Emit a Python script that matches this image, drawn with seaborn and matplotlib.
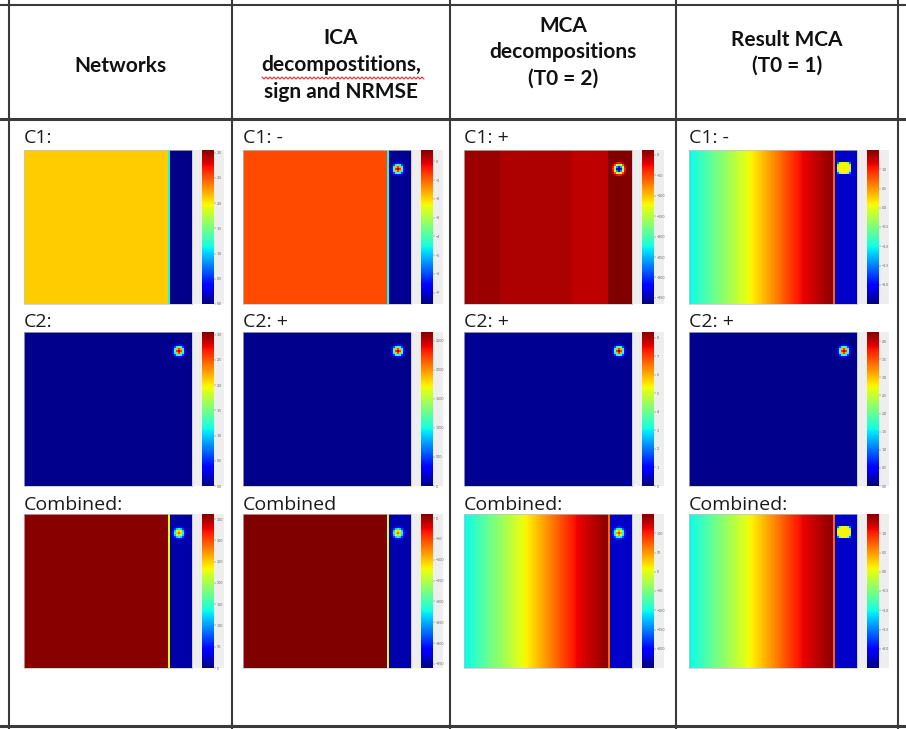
import numpy as np
import matplotlib
matplotlib.use("Agg")
import matplotlib.pyplot as plt
import seaborn as sns
from matplotlib.patches import Rectangle

# ------------------------------------------------------------------ text
HEADERS = [["Networks"],
           ["ICA", "decompostitions,", "sign and NRMSE"],
           ["MCA", "decompositions", "(T0 = 2)"],
           ["Result MCA", "(T0 = 1)"]]
HEADER_BASELINES = [[72], [44, 71, 98], [32, 58, 85], [46, 72]]
ROW_LABELS = [["C1:", "C2:", "Combined:"],
              ["C1: -", "C2: +", "Combined"],
              ["C1: +", "C2: +", "Combined:"],
              ["C1: -", "C2: +", "Combined:"]]

# ------------------------------------------------------------------ field values
# main-region column profiles (72 columns across the image, left to right)
NET_C1_MAIN = [2.12] * 72
NET_C2_MAIN = [0.04] * 72
NET_COMB_MAIN = [358] * 72
ICA_C1_MAIN = [-0.8] * 72
ICA_C2_MAIN = [40] * 72
ICA_COMB_MAIN = [10] * 72
MCA_C1_MAIN = [2.6] * 18 + [-3] * 36 + [-10] * 18
MCA_C2_MAIN = [0.15] * 72
MCA_COMB_MAIN = [-104, -100, -97, -93, -89, -85, -82, -78, -74, -70, -67, -63,
                 -59, -56, -52, -48, -44, -40, -37, -33, -29, -26, -22, -18,
                 -14, -10, -7, -3, 1, 4, 8, 12, 16, 20, 24, 28,
                 32, 36, 40, 44, 48, 52, 56, 60, 64, 68, 72, 76,
                 80, 84, 88, 92, 96, 99, 103, 107, 111, 113, 115, 118,
                 120, 122, 124, 127, 129, 131, 134, 136, 138, 140, 142, 145]
RES_GRADIENT = [-1.04, -1.00, -0.97, -0.93, -0.89, -0.85, -0.82, -0.78, -0.74, -0.70, -0.67, -0.63,
                -0.59, -0.56, -0.52, -0.48, -0.44, -0.40, -0.37, -0.33, -0.29, -0.26, -0.22, -0.18,
                -0.14, -0.10, -0.07, -0.03, 0.01, 0.04, 0.08, 0.12, 0.16, 0.20, 0.24, 0.28,
                0.32, 0.36, 0.40, 0.44, 0.48, 0.52, 0.56, 0.60, 0.64, 0.68, 0.72, 0.76,
                0.80, 0.84, 0.88, 0.92, 0.96, 0.99, 1.03, 1.07, 1.11, 1.13, 1.15, 1.18,
                1.20, 1.22, 1.24, 1.27, 1.29, 1.31, 1.34, 1.36, 1.38, 1.40, 1.42, 1.45]
RES_C1_MAIN = RES_GRADIENT
RES_C2_MAIN = [0.06] * 72
RES_COMB_MAIN = RES_GRADIENT

# boundary column, right strip, blob peak value (per column: Networks, ICA, MCA, Result)
EDGE_VALUES = [[1.15, 0.04, 224], [-4.5, 40, -131], [12, 0.15, 70], [0.7, 0.06, 0.7]]
STRIP_VALUES = [[0.03, 0.04, 14], [-7.45, 40, -345], [12, 0.15, -224], [-2.24, 0.06, -2.24]]
BLOB_PEAKS = [[None, 3.0, 290], [0.6, 2600, -64], [-365, 8.2, 90], [0.1, 4.2, 0.1]]
BLOB_KINDS = [[None, "soft", "soft"], ["soft", "soft", "soft"],
              ["soft", "soft", "soft"], ["flat", "soft", "flat"]]

# colour limits and colorbar ticks
VLIMS = [[(0, 3.05), (0, 3.05), (0, 362)],
         [(-7.6, 0.6), (0, 2650), (-360, 10)],
         [(-365, 12), (0, 8.3), (-250, 150)],
         [(-2.5, 1.5), (0, 4.25), (-2.5, 1.5)]]
CBAR_TICKS = [[[0, 0.5, 1, 1.5, 2, 2.5, 3], [0, 0.5, 1, 1.5, 2, 2.5, 3], [0, 50, 100, 150, 200, 250, 300, 350]],
              [[-7, -6, -5, -4, -3, -2, -1, 0], [0, 500, 1000, 1500, 2000, 2500], [-350, -300, -250, -200, -150, -100, -50, 0]],
              [[-350, -300, -250, -200, -150, -100, -50, 0], [0, 1, 2, 3, 4, 5, 6, 7, 8], [-200, -150, -100, -50, 0, 50, 100]],
              [[-2, -1.5, -1, -0.5, 0, 0.5, 1], [0, 0.5, 1, 1.5, 2, 2.5, 3, 3.5, 4], [-2, -1.5, -1, -0.5, 0, 0.5, 1]]]

MAINS = [[NET_C1_MAIN, NET_C2_MAIN, NET_COMB_MAIN],
         [ICA_C1_MAIN, ICA_C2_MAIN, ICA_COMB_MAIN],
         [MCA_C1_MAIN, MCA_C2_MAIN, MCA_COMB_MAIN],
         [RES_C1_MAIN, RES_C2_MAIN, RES_COMB_MAIN]]

# blob shapes (relative weights)
BLOB_SOFT = [[0.00, 0.04, 0.10, 0.13, 0.10, 0.04, 0.00],
             [0.04, 0.18, 0.38, 0.46, 0.38, 0.18, 0.04],
             [0.10, 0.38, 0.72, 0.86, 0.72, 0.38, 0.10],
             [0.13, 0.46, 0.86, 1.00, 0.86, 0.46, 0.13],
             [0.10, 0.38, 0.72, 0.86, 0.72, 0.38, 0.10],
             [0.04, 0.18, 0.38, 0.46, 0.38, 0.18, 0.04],
             [0.00, 0.04, 0.10, 0.13, 0.10, 0.04, 0.00]]
BLOB_FLAT = [[0.3, 0.8, 1, 1, 1, 0.8, 0.3],
             [0.8, 1, 1, 1, 1, 1, 0.8],
             [1, 1, 1, 1, 1, 1, 1],
             [1, 1, 1, 1, 1, 1, 1],
             [0.8, 1, 1, 1, 1, 1, 0.8],
             [0.3, 0.8, 1, 1, 1, 0.8, 0.3]]

# ------------------------------------------------------------------ layout (pixels)
W, H = 906, 729
COL_X = [24, 243, 464, 689]
ROW_Y = [150, 332, 514]
IMG_W, IMG_H = 168, 154
CBAR_GAP, CBAR_W = 10, 12
V_LINES = [9, 232, 450, 676, 898]
N_ROWS, N_STRIP = 78, 11
BLOB_R0, BLOB_C0 = 6, 74


def build_field(main, edge, strip, peak, kind):
    row = np.concatenate([np.asarray(main, float), [edge], np.full(N_STRIP, strip)])
    grid = np.tile(row, (N_ROWS, 1))
    if kind is not None:
        patch = np.asarray(BLOB_SOFT if kind == "soft" else BLOB_FLAT, float)
        ph, pw = patch.shape
        grid[BLOB_R0:BLOB_R0 + ph, BLOB_C0:BLOB_C0 + pw] += (peak - strip) * patch
    return grid


sns.set_theme(style="white")
plt.rcParams["font.family"] = ["Lato", "DejaVu Sans"]

fig = plt.figure(figsize=(W / 100, H / 100), dpi=100)
fig.patch.set_facecolor("white")


def px_axes(x, y, w, h):
    return fig.add_axes([x / W, 1 - (y + h) / H, w / W, h / H])


bg = px_axes(0, 0, W, H)
bg.set_xlim(0, W)
bg.set_ylim(H, 0)
bg.axis("off")

line_c = "#3a3a3a"
for x in V_LINES:
    bg.plot([x, x], [0, H], color=line_c, lw=1.5, solid_capstyle="butt")
bg.plot([0, W], [5, 5], color=line_c, lw=1.5)
bg.plot([0, W], [119, 119], color=line_c, lw=2.2)
bg.plot([0, W], [726, 726], color=line_c, lw=2.2)

# headers
for ci, lines in enumerate(HEADERS):
    cx = (V_LINES[ci] + V_LINES[ci + 1]) / 2
    for txt, yb in zip(lines, HEADER_BASELINES[ci]):
        bg.text(cx, yb, txt, ha="center", va="baseline", fontsize=15,
                fontweight="bold", color="#111111", family=["Lato", "DejaVu Sans"])

# spell-check squiggle under "decompostitions,"
sq_x = np.arange(262, 426, 2)
sq_y = np.where(np.arange(len(sq_x)) % 2 == 0, 77.0, 79.0)
bg.plot(sq_x, sq_y, color="#e03030", lw=0.8)

label_baselines = [143, 327, 510]
for ci in range(4):
    for ri in range(3):
        x0, y0 = COL_X[ci], ROW_Y[ri]
        bg.text(x0, label_baselines[ri], ROW_LABELS[ci][ri], ha="left", va="baseline",
                fontsize=14, color="#1a1a1a", family=["Open Sans", "DejaVu Sans"])
        cbar_x = x0 + IMG_W + CBAR_GAP
        bg.add_patch(Rectangle((x0 + IMG_W, y0), cbar_x + CBAR_W + 10 - (x0 + IMG_W), IMG_H,
                               facecolor="#eeeeee", edgecolor="none", zorder=0))
        grid = build_field(MAINS[ci][ri], EDGE_VALUES[ci][ri], STRIP_VALUES[ci][ri],
                           BLOB_PEAKS[ci][ri], BLOB_KINDS[ci][ri])
        ax = px_axes(x0, y0, IMG_W, IMG_H)
        cax = px_axes(cbar_x, y0, CBAR_W, IMG_H)
        lo, hi = VLIMS[ci][ri]
        sns.heatmap(grid, ax=ax, cbar_ax=cax, cmap="jet", vmin=lo, vmax=hi,
                    xticklabels=False, yticklabels=False)
        for sp in ax.spines.values():
            sp.set_visible(True)
            sp.set_color("#c4c4c4")
            sp.set_linewidth(0.5)
        cbar = ax.collections[0].colorbar
        cbar.set_ticks(CBAR_TICKS[ci][ri])
        cbar.outline.set_visible(False)
        cax.tick_params(labelsize=2.6, length=1.2, width=0.3, colors="#666666", pad=0.8)

fig.savefig("out.png", dpi=100, facecolor="white")
